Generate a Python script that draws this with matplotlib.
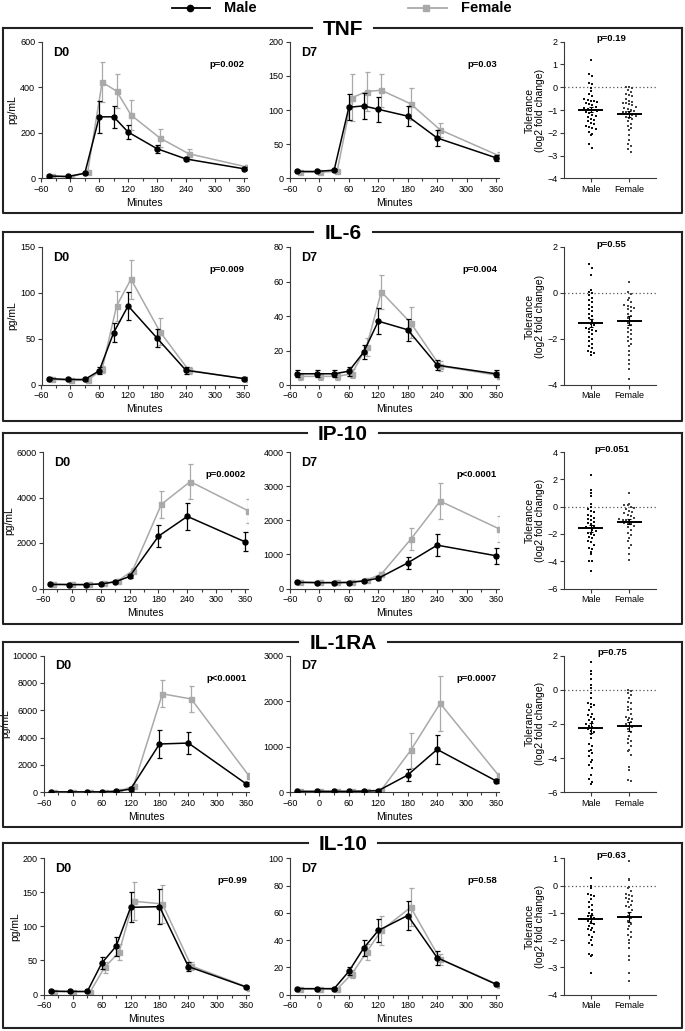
"""
Cytokine response D0 / D7 by sex, plus tolerance scatter (5 panels)
"""

import numpy as np
import matplotlib
matplotlib.use("Agg")
import matplotlib.pyplot as plt
from matplotlib.lines import Line2D

plt.rcParams['font.family'] = ['Liberation Sans Narrow', 'Liberation Sans', 'DejaVu Sans']

W, H = 685, 1031

times = [-45, -5, 30, 60, 90, 120, 180, 240, 360]
female_shift = 6  # grey series is nudged right a little

MALE_C = "black"
FEMALE_C = "#a9a9a9"
AXIS_C = "#3a3a3a"

# ---------------- TNF ----------------
tnf_d0_male = [10, 8, 22, 270, 270, 203, 130, 85, 42]
tnf_d0_male_sem = [4, 3, 5, 70, 48, 30, 18, 10, 6]
tnf_d0_female = [9, 6, 28, 422, 383, 278, 177, 108, 50]
tnf_d0_female_sem = [4, 3, 6, 88, 73, 66, 38, 22, 8]
tnf_d7_male = [10, 10, 12, 104, 106, 101, 91, 59, 30]
tnf_d7_male_sem = [1.5, 1.5, 2, 19, 19, 18, 15, 11, 4]
tnf_d7_female = [9, 9, 10, 118, 127, 129, 109, 71, 33]
tnf_d7_female_sem = [1.5, 1.5, 2, 34, 29, 24, 23, 10, 5]
tnf_tol_male = [1.2, 0.6, 0.5, 0.2, 0.15, -0.05, -0.15, -0.3, -0.4, -0.5, -0.55, -0.6,
                -0.6, -0.65, -0.7, -0.75, -0.8, -0.85, -0.9, -0.95, -1.0, -1.0, -1.05,
                -1.1, -1.15, -1.2, -1.25, -1.3, -1.4, -1.45, -1.5, -1.55, -1.6, -1.7,
                -1.75, -1.8, -1.85, -1.95, -2.05, -2.1, -2.5, -2.65]
tnf_tol_female = [0.0, 0.0, -0.05, -0.1, -0.2, -0.3, -0.35, -0.4, -0.5, -0.6, -0.65,
                  -0.7, -0.7, -0.75, -0.8, -0.85, -0.9, -0.95, -1.0, -1.05, -1.1, -1.1,
                  -1.15, -1.2, -1.25, -1.3, -1.35, -1.4, -1.5, -1.6, -1.7, -1.8, -1.9,
                  -2.1, -2.3, -2.5, -2.6, -2.7, -2.85]
tnf_tol_means = [-0.98, -1.17]
tnf_p = ["p=0.002", "p=0.03", "p=0.19"]

# ---------------- IL-6 ----------------
il6_d0_male = [7, 6, 6, 15.5, 57, 86, 51, 16, 7]
il6_d0_male_sem = [2, 2, 2, 4, 10, 15, 10, 4, 1.5]
il6_d0_female = [6, 5, 5, 17, 86, 115, 58, 16, 6.5]
il6_d0_female_sem = [2, 2, 2, 4, 16, 21, 15, 4, 1.5]
il6_d7_male = [6.5, 6.5, 6.5, 8, 19, 37, 32, 11.5, 6.5]
il6_d7_male_sem = [2, 2, 2, 2.5, 4, 7.5, 6.5, 3, 2]
il6_d7_female = [5, 5, 5, 6.5, 22, 54, 36, 11, 5.5]
il6_d7_female_sem = [2, 2, 2, 2.5, 5, 10, 9, 3, 2]
il6_tol_male = [1.25, 1.1, 0.8, 0.15, 0.05, 0.0, -0.1, -0.2, -0.3, -0.4, -0.5, -0.6,
                -0.7, -0.8, -0.9, -1.0, -1.1, -1.2, -1.3, -1.35, -1.4, -1.5, -1.55,
                -1.6, -1.65, -1.7, -1.8, -1.9, -2.0, -2.1, -2.2, -2.3, -2.4, -2.5,
                -2.55, -2.6, -2.7]
il6_tol_female = [0.5, 0.05, -0.05, -0.2, -0.3, -0.4, -0.5, -0.55, -0.6, -0.65, -0.7,
                  -0.8, -0.9, -1.0, -1.1, -1.2, -1.3, -1.4, -1.5, -1.6, -1.7, -1.8,
                  -1.9, -2.0, -2.1, -2.2, -2.3, -2.5, -2.7, -2.9, -3.1, -3.3, -3.75]
il6_tol_means = [-1.3, -1.2]
il6_p = ["p=0.009", "p=0.004", "p=0.55"]

# ---------------- IP-10 ----------------
ip10_d0_male = [180, 170, 170, 200, 290, 530, 2300, 3170, 2050]
ip10_d0_male_sem = [40, 40, 40, 40, 60, 80, 470, 600, 420]
ip10_d0_female = [190, 180, 180, 220, 340, 780, 3700, 4700, 3420]
ip10_d0_female_sem = [40, 40, 40, 40, 60, 120, 600, 780, 520]
ip10_d7_male = [180, 170, 170, 175, 220, 300, 750, 1270, 960]
ip10_d7_male_sem = [30, 30, 30, 30, 40, 50, 180, 320, 240]
ip10_d7_female = [190, 180, 180, 190, 250, 420, 1440, 2560, 1750]
ip10_d7_female_sem = [30, 30, 30, 30, 40, 60, 320, 520, 380]
ip10_tol_male = [2.3, 1.2, 1.0, 0.8, 0.2, 0.0, -0.2, -0.3, -0.4, -0.6, -0.7, -0.8,
                 -0.9, -1.0, -1.1, -1.2, -1.3, -1.4, -1.5, -1.6, -1.7, -1.8, -1.9,
                 -2.0, -2.1, -2.2, -2.3, -2.5, -2.6, -2.8, -3.0, -3.1, -3.3, -3.5,
                 -4.0, -4.0, -4.7]
ip10_tol_female = [1.0, 0.2, 0.15, 0.1, 0.0, -0.1, -0.2, -0.3, -0.4, -0.5, -0.6, -0.7,
                   -0.8, -0.9, -0.95, -1.0, -1.05, -1.1, -1.1, -1.15, -1.2, -1.25,
                   -1.3, -1.4, -1.5, -1.7, -1.9, -2.1, -2.3, -2.5, -2.8, -3.0, -3.5,
                   -3.9]
ip10_tol_means = [-1.6, -1.1]
ip10_p = ["p=0.0002", "p<0.0001", "p=0.051"]

# ---------------- IL-1RA ----------------
il1ra_d0_male = [30, 30, 30, 30, 80, 230, 3530, 3600, 620]
il1ra_d0_male_sem = [20, 20, 20, 20, 40, 150, 1050, 830, 150]
il1ra_d0_female = [30, 30, 30, 30, 90, 450, 7200, 6820, 1200]
il1ra_d0_female_sem = [20, 20, 20, 20, 40, 150, 1000, 950, 200]
il1ra_d7_male = [20, 20, 20, 20, 25, 35, 380, 940, 250]
il1ra_d7_male_sem = [10, 10, 10, 10, 10, 20, 140, 310, 50]
il1ra_d7_female = [20, 20, 20, 20, 30, 50, 920, 1950, 360]
il1ra_d7_female_sem = [10, 10, 10, 10, 10, 20, 390, 600, 60]
il1ra_tol_male = [1.6, 1.1, 0.9, 0.6, 0.3, 0.1, -0.2, -0.5, -0.8, -0.85, -0.9, -1.0,
                  -1.2, -1.4, -1.5, -1.6, -1.7, -1.8, -1.9, -2.0, -2.1, -2.2, -2.25,
                  -2.3, -2.4, -2.5, -2.6, -2.8, -3.2, -3.3, -3.5, -3.6, -3.7, -3.9,
                  -4.1, -4.2, -4.4, -4.6, -5.0, -5.2, -5.4, -5.5]
il1ra_tol_female = [0.0, -0.1, -0.2, -0.3, -0.5, -0.7, -0.8, -1.0, -1.1, -1.2, -1.4,
                    -1.6, -1.65, -1.7, -1.8, -1.9, -2.0, -2.1, -2.2, -2.3, -2.5, -2.7,
                    -2.9, -3.0, -3.1, -3.3, -3.5, -3.6, -3.8, -4.5, -4.7, -5.3, -5.35]
il1ra_tol_means = [-2.22, -2.13]
il1ra_p = ["p<0.0001", "p=0.0007", "p=0.75"]

# ---------------- IL-10 ----------------
il10_d0_male = [5, 4.5, 4.5, 46, 71, 128, 129, 41, 11]
il10_d0_male_sem = [1, 1, 1, 9, 14, 22, 26, 6, 2]
il10_d0_female = [4, 4, 4, 40, 62, 137, 133, 42, 10]
il10_d0_female_sem = [1, 1, 1, 8, 12, 28, 28, 6, 2]
il10_d7_male = [4.3, 4.3, 4.3, 17, 34, 47, 58, 27, 7.5]
il10_d7_male_sem = [0.8, 0.8, 0.8, 3, 6, 8.5, 11, 5, 1]
il10_d7_female = [4, 4, 4, 15, 31, 47, 64, 26, 7]
il10_d7_female_sem = [0.8, 0.8, 0.8, 3, 6, 11, 14, 4, 1]
il10_tol_male = [0.28, 0.0, -0.1, -0.3, -0.35, -0.4, -0.5, -0.6, -0.7, -0.8, -0.9,
                 -1.0, -1.05, -1.1, -1.15, -1.2, -1.3, -1.35, -1.4, -1.5, -1.55, -1.6,
                 -1.65, -1.7, -1.8, -1.9, -2.0, -2.1, -2.2, -2.5, -2.55, -2.6, -3.2]
il10_tol_female = [0.9, 0.25, 0.2, -0.05, -0.1, -0.2, -0.3, -0.35, -0.4, -0.45, -0.5,
                   -0.55, -0.6, -0.7, -0.75, -0.8, -0.9, -1.0, -1.1, -1.2, -1.3, -1.4,
                   -1.5, -1.6, -1.7, -1.8, -1.9, -2.0, -2.1, -2.3, -2.6, -2.75, -3.2,
                   -3.5]
il10_tol_means = [-1.23, -1.15]
il10_p = ["p=0.99", "p=0.58", "p=0.63"]

# layout per row (pixels): box top/bottom, axes top/bottom, D0 left, axis limits/steps
rows = [
    dict(name="TNF", box=(27.7, 213), ax=(41.7, 178.3), d0x=41.5,
         d0=(tnf_d0_male, tnf_d0_male_sem, tnf_d0_female, tnf_d0_female_sem, 600, 200),
         d7=(tnf_d7_male, tnf_d7_male_sem, tnf_d7_female, tnf_d7_female_sem, 200, 50),
         tol=(tnf_tol_male, tnf_tol_female, tnf_tol_means, (-4, 2), 1), p=tnf_p),
    dict(name="IL-6", box=(231.7, 420.7), ax=(247, 385), d0x=41.5,
         d0=(il6_d0_male, il6_d0_male_sem, il6_d0_female, il6_d0_female_sem, 150, 50),
         d7=(il6_d7_male, il6_d7_male_sem, il6_d7_female, il6_d7_female_sem, 80, 20),
         tol=(il6_tol_male, il6_tol_female, il6_tol_means, (-4, 2), 2), p=il6_p),
    dict(name="IP-10", box=(433.3, 624), ax=(452, 588.5), d0x=43,
         d0=(ip10_d0_male, ip10_d0_male_sem, ip10_d0_female, ip10_d0_female_sem, 6000, 2000),
         d7=(ip10_d7_male, ip10_d7_male_sem, ip10_d7_female, ip10_d7_female_sem, 4000, 1000),
         tol=(ip10_tol_male, ip10_tol_female, ip10_tol_means, (-6, 4), 2), p=ip10_p),
    dict(name="IL-1RA", box=(641.7, 826.7), ax=(655.5, 792.3), d0x=44,
         d0=(il1ra_d0_male, il1ra_d0_male_sem, il1ra_d0_female, il1ra_d0_female_sem, 10000, 2000),
         d7=(il1ra_d7_male, il1ra_d7_male_sem, il1ra_d7_female, il1ra_d7_female_sem, 3000, 1000),
         tol=(il1ra_tol_male, il1ra_tol_female, il1ra_tol_means, (-6, 2), 2), p=il1ra_p),
    dict(name="IL-10", box=(843.3, 1028.3), ax=(858.3, 994.5), d0x=44,
         d0=(il10_d0_male, il10_d0_male_sem, il10_d0_female, il10_d0_female_sem, 200, 50),
         d7=(il10_d7_male, il10_d7_male_sem, il10_d7_female, il10_d7_female_sem, 100, 20),
         tol=(il10_tol_male, il10_tol_female, il10_tol_means, (-4, 1), 1), p=il10_p),
]


def px_rect(x0, top, x1, bottom):
    return [x0 / W, 1 - bottom / H, (x1 - x0) / W, (bottom - top) / H]


def fig_line(fig, xs, ys, **kw):
    fig.add_artist(Line2D([x / W for x in xs], [1 - y / H for y in ys],
                          transform=fig.transFigure, **kw))


def style_axes(ax):
    for s in ["top", "right"]:
        ax.spines[s].set_visible(False)
    for s in ["left", "bottom"]:
        ax.spines[s].set_color(AXIS_C)
        ax.spines[s].set_linewidth(0.8)
    ax.tick_params(which="both", direction="out", color=AXIS_C, width=0.8,
                   labelsize=6.5, pad=1.5)
    ax.tick_params(which="major", length=3)
    ax.tick_params(which="minor", length=2)


def time_panel(ax, data, label, ptxt, ylabel):
    male, male_sem, female, female_sem, ymax, ystep = data
    t = np.array(times, float)
    ax.errorbar(t + female_shift, female, yerr=female_sem, color=FEMALE_C, lw=1.1,
                marker="s", ms=3.6, elinewidth=0.9, capsize=1.8, capthick=0.9, zorder=2)
    ax.errorbar(t, male, yerr=male_sem, color=MALE_C, lw=1.1, marker="o", ms=3.6,
                elinewidth=0.9, capsize=1.8, capthick=0.9, zorder=3)
    ax.set_xlim(-60, 366)
    ax.set_ylim(0, ymax)
    ax.set_xticks(range(-60, 361, 60))
    ax.set_xticks(range(-30, 361, 60), minor=True)
    ax.set_yticks(np.arange(0, ymax + 1, ystep))
    ax.set_xlabel("Minutes", fontsize=7.5, labelpad=3)
    if ylabel:
        ax.set_ylabel("pg/mL", fontsize=7.5, labelpad=2)
    style_axes(ax)
    ax.text(0.055, 0.92, label, transform=ax.transAxes, fontsize=9,
            fontweight="bold", va="center", ha="left")
    ax.text(0.99, 0.835, ptxt, transform=ax.transAxes, fontsize=6.8,
            fontweight="bold", va="center", ha="right")


def swarm_x(vals, center, ylim, step=0.085):
    # GraphPad-style spread: points falling in the same height band sit side by side
    vals = np.asarray(vals, float)
    binh = (ylim[1] - ylim[0]) * 4.5 / 136
    keys = np.round(vals / binh).astype(int)
    xs = np.zeros_like(vals)
    for k in np.unique(keys):
        idx = np.where(keys == k)[0]
        n = len(idx)
        xs[idx] = center + (np.arange(n) - (n - 1) / 2) * step
    return xs


def tol_panel(ax, data, ptxt):
    male, female, means, ylim, ystep = data
    ax.axhline(0, color="#555555", lw=0.9, ls=(0, (1, 2)), zorder=1)
    for i, (vals, col) in enumerate([(male, "#111111"), (female, "#444444")]):
        vals = np.asarray(vals, float)
        ax.scatter(swarm_x(vals, i, ylim), vals, s=3.5, color=col, marker="s",
                   linewidths=0, zorder=2)
        sem = vals.std(ddof=1) / np.sqrt(len(vals))
        ax.hlines(means[i], i - 0.33, i + 0.33, color="black", lw=1.4, zorder=3)
        ax.errorbar([i], [means[i]], yerr=[sem], color="black", lw=0.8,
                    capsize=1.5, capthick=0.8, zorder=3)
    ax.set_xlim(-0.7, 1.7)
    ax.set_ylim(*ylim)
    ax.set_yticks(np.arange(ylim[0], ylim[1] + 0.01, ystep))
    ax.set_xticks([0, 1])
    ax.set_xticklabels(["Male", "Female"])
    ax.set_ylabel("Tolerance\n(log2 fold change)", fontsize=7.5, labelpad=2,
                  linespacing=1.0)
    style_axes(ax)
    ax.text(0.52, 1.02, ptxt, transform=ax.transAxes, fontsize=6.8,
            fontweight="bold", va="center", ha="center")


fig = plt.figure(figsize=(W / 100, H / 100), dpi=100)
renderer = fig.canvas.get_renderer()

for r in rows:
    top, bot = r["ax"]
    ax0 = fig.add_axes(px_rect(r["d0x"], top, r["d0x"] + 205, bot))
    time_panel(ax0, r["d0"], "D0", r["p"][0], True)
    ax7 = fig.add_axes(px_rect(290, top, 499, bot))
    time_panel(ax7, r["d7"], "D7", r["p"][1], False)
    axs = fig.add_axes(px_rect(564, top, 656, bot))
    tol_panel(axs, r["tol"], r["p"][2])

    # framed box with the title sitting in a gap of the top edge
    btop, bbot = r["box"]
    title = fig.text(343 / W, 1 - (btop + 1.5) / H, r["name"], fontsize=15,
                     fontweight="bold", ha="center", va="center")
    ext = title.get_window_extent(renderer)
    gap_l, gap_r = ext.x0 - 11, ext.x1 + 11
    box_kw = dict(color="#222222", lw=1.5, solid_capstyle="projecting")
    fig_line(fig, [3, gap_l], [btop, btop], **box_kw)
    fig_line(fig, [gap_r, 682], [btop, btop], **box_kw)
    fig_line(fig, [3, 3, 682, 682], [btop, bbot, bbot, btop], **box_kw)

# legend across the top
fig_line(fig, [172, 210], [8, 8], color=MALE_C, lw=1.3)
fig_line(fig, [190], [8], color=MALE_C, marker="o", ms=4.5, lw=0)
fig.text(224 / W, 1 - 8 / H, "Male", fontsize=10.5, fontweight="bold", va="center")
fig_line(fig, [408, 447], [8, 8], color=FEMALE_C, lw=1.3)
fig_line(fig, [426], [8], color=FEMALE_C, marker="s", ms=4.5, lw=0)
fig.text(461 / W, 1 - 8 / H, "Female", fontsize=10.5, fontweight="bold", va="center")

fig.savefig("out.png", dpi=100)
plt.close(fig)
